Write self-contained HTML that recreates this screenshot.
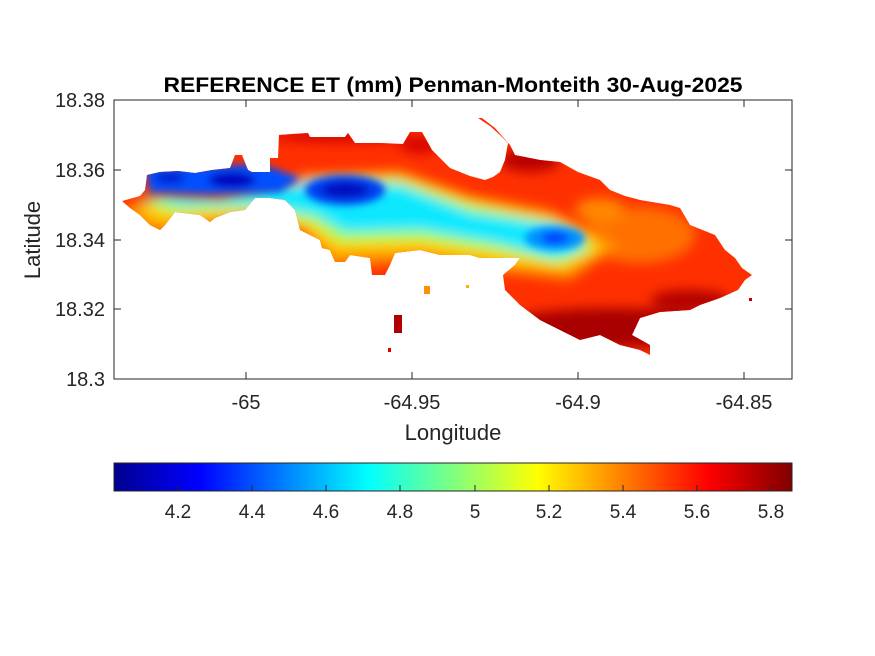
<!DOCTYPE html>
<html><head><meta charset="utf-8"><style>
body{margin:0;background:#fff;}
svg{display:block;font-family:"Liberation Sans",Arial,sans-serif;}
</style></head><body>
<svg width="875" height="656" viewBox="0 0 875 656" xmlns="http://www.w3.org/2000/svg">
<defs>
<filter id="b" x="-50%" y="-50%" width="200%" height="200%"><feGaussianBlur stdDeviation="6"/></filter>
<filter id="b2" x="-50%" y="-50%" width="200%" height="200%"><feGaussianBlur stdDeviation="4"/></filter>
<clipPath id="isl">
<polygon points="122,201 140,196 145,190 147,175 160,172 178,171 195,173 212,170 230,168 235,155 242,155 248,170 252,172 270,172 270,158 278,158 279,135 292,134 308,133 310,137 345,137 348,133 355,143 380,143 403,144 410,132 422,132 432,150 440,158 450,168 470,176 485,180 493,177 500,172 505,160 508,143 500,135 490,126 478,118 482,118 495,128 510,145 515,155 540,160 560,162 578,172 600,180 610,190 625,196 640,200 670,205 680,208 690,225 715,235 725,250 735,258 742,268 752,275 745,280 738,290 720,298 700,305 690,310 660,312 640,318 632,335 650,345 650,355 640,350 620,345 600,335 580,340 560,330 540,320 520,305 505,290 503,275 515,265 520,258 505,258 480,258 470,255 450,255 440,255 420,250 395,253 390,265 385,275 372,275 370,258 350,255 345,262 335,262 330,250 322,248 320,240 300,230 295,210 285,200 270,198 255,198 245,210 230,212 215,218 210,222 200,215 175,212 165,225 160,230 150,225 140,215 130,208"/>
</clipPath>
<linearGradient id="jet" x1="0" x2="1" y1="0" y2="0">
<stop offset="0" stop-color="#00008f"/><stop offset="0.125" stop-color="#0000ff"/><stop offset="0.375" stop-color="#00ffff"/><stop offset="0.625" stop-color="#ffff00"/><stop offset="0.875" stop-color="#ff0000"/><stop offset="1" stop-color="#800000"/>
</linearGradient>
</defs>
<rect x="114" y="100" width="678" height="279" fill="#fff" stroke="#262626" stroke-width="1"/>
<g clip-path="url(#isl)">
<rect x="114" y="100" width="678" height="279" fill="#ff3000"/>
<g filter="url(#b)">
<ellipse cx="610" cy="328" rx="115" ry="20" fill="#a80000"/>
<ellipse cx="690" cy="300" rx="40" ry="10" fill="#b00000"/>
<ellipse cx="530" cy="160" rx="30" ry="12" fill="#b80000"/>
<ellipse cx="340" cy="136" rx="70" ry="6" fill="#d00000"/>
<ellipse cx="420" cy="145" rx="20" ry="8" fill="#d00000"/>
<ellipse cx="640" cy="235" rx="55" ry="28" fill="#ff7000"/>
<ellipse cx="600" cy="210" rx="25" ry="12" fill="#ff8800"/>
<polygon points="115,210 200,215 270,198 300,175 400,170 470,195 550,210 620,245 570,280 500,272 420,262 330,268 300,230 230,225 150,235" fill="#ff9000"/>
<polygon points="125,204 200,208 275,192 310,178 400,176 470,200 555,218 605,248 565,270 500,262 420,250 335,252 305,228 240,215 160,222" fill="#ffd000"/>
<polygon points="135,199 210,202 275,188 315,180 400,180 470,205 555,222 595,248 560,264 500,252 420,240 340,242 310,222 250,209 170,212" fill="#a0ff50"/>
<polygon points="140,194 220,198 280,185 320,182 400,185 470,212 555,225 585,248 555,258 495,243 420,230 345,232 315,215 255,204 180,205" fill="#10e8ff"/>
</g>
<g filter="url(#b2)">
<polygon points="145,168 262,164 300,178 280,192 210,194 150,192" fill="#0050ff"/>
<ellipse cx="232" cy="180" rx="24" ry="8" fill="#0000c0"/>
<ellipse cx="170" cy="178" rx="15" ry="6" fill="#0020d0"/>
<ellipse cx="345" cy="190" rx="40" ry="15" fill="#0040f0"/>
<ellipse cx="345" cy="190" rx="24" ry="8" fill="#0010c0"/>
<ellipse cx="555" cy="238" rx="30" ry="12" fill="#0090ff"/>
<ellipse cx="555" cy="238" rx="14" ry="6" fill="#0040ff"/>
</g>
</g>
<rect x="394" y="315" width="8" height="18" fill="#b00000"/>
<rect x="388" y="348" width="3" height="4" fill="#e00000"/>
<rect x="424" y="286" width="6" height="8" fill="#ff9000"/>
<rect x="466" y="285" width="3" height="3" fill="#ffb000"/>
<rect x="749" y="298" width="3" height="3" fill="#c00000"/>
<g stroke="#262626" stroke-width="1">
<line x1="246" y1="100" x2="246" y2="107"/><line x1="412" y1="100" x2="412" y2="107"/><line x1="578" y1="100" x2="578" y2="107"/><line x1="744" y1="100" x2="744" y2="107"/>
<line x1="246" y1="379" x2="246" y2="372"/><line x1="412" y1="379" x2="412" y2="372"/><line x1="578" y1="379" x2="578" y2="372"/><line x1="744" y1="379" x2="744" y2="372"/>
<line x1="114" y1="170" x2="121" y2="170"/><line x1="114" y1="240" x2="121" y2="240"/><line x1="114" y1="309" x2="121" y2="309"/>
<line x1="792" y1="170" x2="785" y2="170"/><line x1="792" y1="240" x2="785" y2="240"/><line x1="792" y1="309" x2="785" y2="309"/>
</g>
<g fill="#262626" font-size="20" text-anchor="middle">
<text x="246" y="409">-65</text><text x="412" y="409">-64.95</text><text x="578" y="409">-64.9</text><text x="744" y="409">-64.85</text>
</g>
<g fill="#262626" font-size="20" text-anchor="end">
<text x="105" y="107">18.38</text><text x="105" y="177">18.36</text><text x="105" y="247">18.34</text><text x="105" y="316">18.32</text><text x="105" y="386">18.3</text>
</g>
<text x="453" y="440" font-size="22" fill="#262626" text-anchor="middle">Longitude</text>
<text transform="translate(40,240) rotate(-90)" font-size="22" fill="#262626" text-anchor="middle">Latitude</text>
<text x="453" y="92" font-size="21.5" font-weight="bold" fill="#000" text-anchor="middle" textLength="579" lengthAdjust="spacingAndGlyphs">REFERENCE ET (mm) Penman-Monteith 30-Aug-2025</text>
<rect x="114" y="463" width="678" height="28" fill="url(#jet)" stroke="#262626" stroke-width="1"/>
<g stroke="#262626" stroke-width="1">
<line x1="178" y1="491" x2="178" y2="485"/><line x1="252" y1="491" x2="252" y2="485"/><line x1="326" y1="491" x2="326" y2="485"/><line x1="400" y1="491" x2="400" y2="485"/><line x1="475" y1="491" x2="475" y2="485"/><line x1="549" y1="491" x2="549" y2="485"/><line x1="623" y1="491" x2="623" y2="485"/><line x1="697" y1="491" x2="697" y2="485"/><line x1="771" y1="491" x2="771" y2="485"/>
</g>
<g fill="#262626" font-size="19" text-anchor="middle">
<text x="178" y="518">4.2</text><text x="252" y="518">4.4</text><text x="326" y="518">4.6</text><text x="400" y="518">4.8</text><text x="475" y="518">5</text><text x="549" y="518">5.2</text><text x="623" y="518">5.4</text><text x="697" y="518">5.6</text><text x="771" y="518">5.8</text>
</g>
</svg>
</body></html>
